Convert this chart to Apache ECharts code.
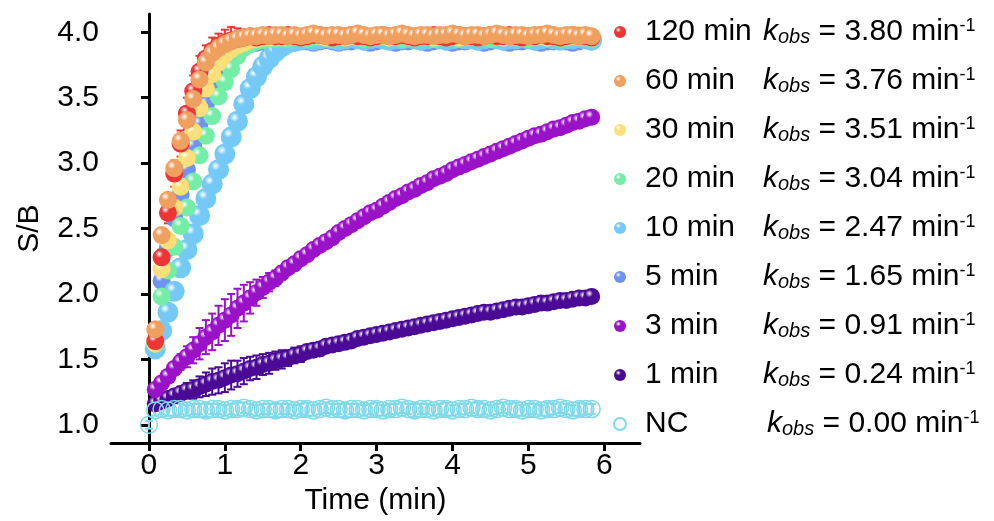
<!DOCTYPE html>
<html>
<head>
<meta charset="utf-8">
<script src="https://cdn.jsdelivr.net/npm/echarts@6/dist/echarts.min.js"></script>
<style>
  html, body { margin: 0; padding: 0; background: #fff; }
  #chart { width: 994px; height: 521px; }
</style>
</head>
<body>
<div id="chart"></div>
<script>
// sampling time in seconds (every 5 s)
const timeSec = [
  0, 5, 10, 15, 20, 25, 30, 35, 40, 45, 50, 55,
  60, 65, 70, 75, 80, 85, 90, 95, 100, 105, 110, 115,
  120, 125, 130, 135, 140, 145, 150, 155, 160, 165, 170, 175,
  180, 185, 190, 195, 200, 205, 210, 215, 220, 225, 230, 235,
  240, 245, 250, 255, 260, 265, 270, 275, 280, 285, 290, 295,
  300, 305, 310, 315, 320, 325, 330, 335, 340, 345, 350
]

const names = ['120 min', '60 min', '30 min', '20 min', '10 min', '5 min', '3 min', '1 min', 'NC']
const kobs = ['3.80', '3.76', '3.51', '3.04', '2.47', '1.65', '0.91', '0.24', '0.00']
const xTicks = [0, 1, 2, 3, 4, 5, 6]
const yTicks = [1.0, 1.5, 2.0, 2.5, 3.0, 3.5, 4.0]

const s120 = [
  null, 1.64, 2.28, 2.62, 2.92, 3.15, 3.38, 3.55, 3.70, 3.80, 3.86, 3.90,
  3.92, 3.94, 3.95, 3.96, 3.97, 3.96, 3.97, 3.98, 3.97, 3.97, 3.98, 3.97,
  3.96, 3.97, 3.98, 3.98, 3.97, 3.96, 3.97, 3.97, 3.98, 3.97, 3.97, 3.96,
  3.97, 3.98, 3.97, 3.97, 3.98, 3.97, 3.96, 3.97, 3.97, 3.98, 3.97, 3.96,
  3.97, 3.98, 3.97, 3.97, 3.96, 3.97, 3.98, 3.97, 3.97, 3.98, 3.97, 3.96,
  3.97, 3.97, 3.98, 3.97, 3.97, 3.96, 3.97, 3.98, 3.97, 3.97, 3.96
]
const e120 = [
  0, 0.04, 0.06, 0.08, 0.10, 0.10, 0.12, 0.12, 0.12, 0.10, 0.10, 0.09,
  0.10, 0.10, 0.08, 0.06, 0.05, 0.04, 0.04, 0.04, 0.03, 0.04, 0.03, 0.03,
  0.04, 0.03, 0.03, 0.04, 0.03, 0.03, 0.04, 0.03, 0.03, 0.04, 0.03, 0.03,
  0.03, 0.04, 0.03, 0.03, 0.04, 0.03, 0.03, 0.04, 0.03, 0.03, 0.04, 0.03,
  0.03, 0.04, 0.03, 0.03, 0.04, 0.03, 0.03, 0.04, 0.03, 0.03, 0.04, 0.03,
  0.03, 0.04, 0.03, 0.03, 0.04, 0.03, 0.03, 0.04, 0.03, 0.03, 0.04
]
const s60 = [
  null, 1.73, 2.45, 2.72, 2.96, 3.17, 3.33, 3.49, 3.64, 3.77, 3.84, 3.88,
  3.91, 3.93, 3.95, 3.96, 3.97, 3.97, 3.98, 3.97, 3.98, 3.98, 3.97, 3.98,
  3.97, 3.98, 3.99, 3.98, 3.97, 3.98, 3.98, 3.97, 3.98, 3.99, 3.98, 3.97,
  3.98, 3.98, 3.97, 3.98, 3.99, 3.98, 3.97, 3.98, 3.98, 3.97, 3.98, 3.98,
  3.99, 3.98, 3.97, 3.98, 3.98, 3.97, 3.98, 3.99, 3.98, 3.97, 3.98, 3.98,
  3.97, 3.98, 3.98, 3.99, 3.98, 3.97, 3.98, 3.98, 3.97, 3.98, 3.97
]
const e60 = [
  0, 0.04, 0.05, 0.05, 0.06, 0.06, 0.06, 0.05, 0.05, 0.05, 0.04, 0.04,
  0.04, 0.03, 0.03, 0.03, 0.03, 0.03, 0.03, 0.03, 0.03, 0.03, 0.03, 0.03,
  0.03, 0.03, 0.03, 0.03, 0.03, 0.03, 0.03, 0.03, 0.03, 0.03, 0.03, 0.03,
  0.03, 0.03, 0.03, 0.03, 0.03, 0.03, 0.03, 0.03, 0.03, 0.03, 0.03, 0.03,
  0.03, 0.03, 0.03, 0.03, 0.03, 0.03, 0.03, 0.03, 0.03, 0.03, 0.03, 0.03,
  0.03, 0.03, 0.03, 0.03, 0.03, 0.03, 0.03, 0.03, 0.03, 0.03, 0.03
]
const s30 = [
  null, 1.62, 2.19, 2.41, 2.66, 2.82, 3.04, 3.24, 3.42, 3.57, 3.68, 3.77,
  3.83, 3.87, 3.90, 3.92, 3.94, 3.95, 3.96, 3.96, 3.97, 3.96, 3.97, 3.97,
  3.96, 3.97, 3.98, 3.97, 3.96, 3.97, 3.97, 3.96, 3.97, 3.98, 3.97, 3.96,
  3.97, 3.97, 3.96, 3.97, 3.98, 3.97, 3.96, 3.97, 3.97, 3.96, 3.97, 3.98,
  3.97, 3.96, 3.97, 3.97, 3.96, 3.97, 3.98, 3.97, 3.96, 3.97, 3.97, 3.96,
  3.97, 3.98, 3.97, 3.96, 3.97, 3.97, 3.96, 3.97, 3.98, 3.97, 3.96
]
const e30 = [
  0, 0.03, 0.04, 0.04, 0.04, 0.04, 0.03, 0.03, 0.03, 0.03, 0.03, 0.03,
  0.03, 0.03, 0.03, 0.03, 0.03, 0.03, 0.03, 0.03, 0.03, 0.03, 0.03, 0.03,
  0.03, 0.03, 0.03, 0.03, 0.03, 0.03, 0.03, 0.03, 0.03, 0.03, 0.03, 0.03,
  0.03, 0.03, 0.03, 0.03, 0.03, 0.03, 0.03, 0.03, 0.03, 0.03, 0.03, 0.03,
  0.03, 0.03, 0.03, 0.03, 0.03, 0.03, 0.03, 0.03, 0.03, 0.03, 0.03, 0.03,
  0.03, 0.03, 0.03, 0.03, 0.03, 0.03, 0.03, 0.03, 0.03, 0.03, 0.03
]
const s20 = [
  null, 1.62, 1.98, 2.18, 2.36, 2.52, 2.66, 2.86, 3.06, 3.21, 3.36, 3.51,
  3.62, 3.72, 3.82, 3.88, 3.91, 3.93, 3.94, 3.95, 3.95, 3.96, 3.95, 3.96,
  3.96, 3.95, 3.96, 3.97, 3.96, 3.95, 3.96, 3.96, 3.97, 3.96, 3.95, 3.96,
  3.96, 3.97, 3.96, 3.96, 3.95, 3.96, 3.97, 3.96, 3.96, 3.95, 3.96, 3.97,
  3.96, 3.95, 3.96, 3.96, 3.97, 3.96, 3.95, 3.96, 3.96, 3.97, 3.96, 3.96,
  3.95, 3.96, 3.97, 3.96, 3.96, 3.95, 3.96, 3.97, 3.96, 3.96, 3.95
]
const e20 = [
  0, 0.05, 0.05, 0.05, 0.05, 0.04, 0.04, 0.04, 0.04, 0.03, 0.03, 0.03,
  0.03, 0.03, 0.03, 0.03, 0.03, 0.03, 0.03, 0.03, 0.03, 0.03, 0.03, 0.03,
  0.03, 0.03, 0.03, 0.03, 0.03, 0.03, 0.03, 0.03, 0.03, 0.03, 0.03, 0.03,
  0.03, 0.03, 0.03, 0.03, 0.03, 0.03, 0.03, 0.03, 0.03, 0.03, 0.03, 0.03,
  0.03, 0.03, 0.03, 0.03, 0.03, 0.03, 0.03, 0.03, 0.03, 0.03, 0.03, 0.03,
  0.03, 0.03, 0.03, 0.03, 0.03, 0.03, 0.03, 0.03, 0.03, 0.03, 0.03
]
const s10 = [
  null, 1.58, 1.72, 1.86, 2.02, 2.20, 2.34, 2.46, 2.60, 2.73, 2.84, 2.95,
  3.07, 3.20, 3.32, 3.45, 3.57, 3.66, 3.74, 3.80, 3.85, 3.89, 3.92, 3.93,
  3.94, 3.95, 3.94, 3.95, 3.96, 3.95, 3.94, 3.95, 3.96, 3.95, 3.94, 3.95,
  3.96, 3.95, 3.94, 3.95, 3.95, 3.96, 3.95, 3.94, 3.95, 3.96, 3.95, 3.94,
  3.95, 3.96, 3.95, 3.95, 3.94, 3.95, 3.96, 3.95, 3.94, 3.95, 3.95, 3.96,
  3.95, 3.94, 3.95, 3.96, 3.95, 3.94, 3.95, 3.95, 3.96, 3.95, 3.94
]
const e10 = [
  0, 0.04, 0.04, 0.04, 0.04, 0.03, 0.03, 0.03, 0.03, 0.03, 0.03, 0.03,
  0.03, 0.03, 0.03, 0.03, 0.03, 0.03, 0.03, 0.03, 0.03, 0.03, 0.03, 0.03,
  0.03, 0.03, 0.03, 0.03, 0.03, 0.03, 0.03, 0.03, 0.03, 0.03, 0.03, 0.03,
  0.03, 0.03, 0.03, 0.03, 0.03, 0.03, 0.03, 0.03, 0.03, 0.03, 0.03, 0.03,
  0.03, 0.03, 0.03, 0.03, 0.03, 0.03, 0.03, 0.03, 0.03, 0.03, 0.03, 0.03,
  0.03, 0.03, 0.03, 0.03, 0.03, 0.03, 0.03, 0.03, 0.03, 0.03, 0.03
]
const s5 = [
  null, 1.60, 2.10, 2.35, 2.58, 2.76, 2.95, 3.13, 3.30, 3.45, 3.58, 3.68,
  3.76, 3.82, 3.86, 3.89, 3.91, 3.92, 3.93, 3.93, 3.94, 3.93, 3.92, 3.93,
  3.94, 3.93, 3.92, 3.93, 3.94, 3.93, 3.92, 3.93, 3.93, 3.94, 3.93, 3.92,
  3.93, 3.94, 3.93, 3.92, 3.93, 3.93, 3.94, 3.93, 3.92, 3.93, 3.94, 3.93,
  3.92, 3.93, 3.93, 3.94, 3.93, 3.92, 3.93, 3.94, 3.93, 3.92, 3.93, 3.93,
  3.94, 3.93, 3.92, 3.93, 3.93, 3.94, 3.93, 3.92, 3.93, 3.94, 3.93
]
const e5 = [
  0, 0.04, 0.04, 0.04, 0.04, 0.04, 0.04, 0.04, 0.04, 0.04, 0.04, 0.04,
  0.04, 0.04, 0.04, 0.04, 0.04, 0.04, 0.04, 0.04, 0.04, 0.04, 0.04, 0.04,
  0.04, 0.04, 0.04, 0.04, 0.04, 0.04, 0.04, 0.04, 0.04, 0.04, 0.04, 0.04,
  0.04, 0.04, 0.04, 0.04, 0.04, 0.04, 0.04, 0.04, 0.04, 0.04, 0.04, 0.04,
  0.04, 0.04, 0.04, 0.04, 0.04, 0.04, 0.04, 0.04, 0.04, 0.04, 0.04, 0.04,
  0.04, 0.04, 0.04, 0.04, 0.04, 0.04, 0.04, 0.04, 0.04, 0.04, 0.04
]
const s3 = [
  null, 1.27, 1.32, 1.37, 1.43, 1.48, 1.52, 1.57, 1.62, 1.67, 1.71, 1.76,
  1.80, 1.84, 1.89, 1.93, 1.97, 2.01, 2.05, 2.09, 2.12, 2.16, 2.20, 2.23,
  2.27, 2.30, 2.34, 2.37, 2.40, 2.43, 2.47, 2.50, 2.53, 2.56, 2.59, 2.62,
  2.64, 2.67, 2.70, 2.73, 2.75, 2.78, 2.80, 2.83, 2.85, 2.88, 2.90, 2.92,
  2.95, 2.97, 2.99, 3.01, 3.03, 3.05, 3.07, 3.09, 3.11, 3.13, 3.15, 3.17,
  3.19, 3.21, 3.22, 3.24, 3.26, 3.27, 3.29, 3.31, 3.32, 3.34, 3.35
]
const e3 = [
  0, 0.04, 0.04, 0.04, 0.05, 0.06, 0.08, 0.10, 0.12, 0.13, 0.14, 0.15,
  0.16, 0.16, 0.15, 0.14, 0.12, 0.10, 0.08, 0.07, 0.06, 0.05, 0.05, 0.05,
  0.05, 0.04, 0.05, 0.04, 0.04, 0.05, 0.04, 0.04, 0.04, 0.05, 0.04, 0.04,
  0.04, 0.04, 0.05, 0.04, 0.04, 0.04, 0.04, 0.05, 0.04, 0.04, 0.04, 0.04,
  0.04, 0.05, 0.04, 0.04, 0.04, 0.04, 0.04, 0.05, 0.04, 0.04, 0.04, 0.04,
  0.04, 0.04, 0.05, 0.04, 0.04, 0.04, 0.04, 0.04, 0.04, 0.04, 0.04
]
const s1 = [
  null, 1.16, 1.18, 1.20, 1.22, 1.24, 1.26, 1.27, 1.29, 1.31, 1.33, 1.34,
  1.36, 1.38, 1.39, 1.41, 1.43, 1.44, 1.46, 1.47, 1.49, 1.50, 1.51, 1.53,
  1.54, 1.56, 1.57, 1.58, 1.60, 1.61, 1.62, 1.63, 1.64, 1.66, 1.67, 1.68,
  1.69, 1.70, 1.71, 1.72, 1.73, 1.74, 1.75, 1.76, 1.77, 1.78, 1.79, 1.80,
  1.81, 1.82, 1.83, 1.84, 1.85, 1.86, 1.86, 1.87, 1.88, 1.89, 1.90, 1.90,
  1.91, 1.92, 1.93, 1.93, 1.94, 1.95, 1.95, 1.96, 1.97, 1.97, 1.98
]
const e1 = [
  0, 0.05, 0.05, 0.05, 0.04, 0.05, 0.06, 0.07, 0.08, 0.09, 0.10, 0.10,
  0.11, 0.11, 0.10, 0.10, 0.09, 0.09, 0.08, 0.08, 0.07, 0.07, 0.06, 0.06,
  0.06, 0.05, 0.05, 0.05, 0.04, 0.04, 0.04, 0.04, 0.04, 0.04, 0.04, 0.04,
  0.04, 0.04, 0.04, 0.04, 0.04, 0.04, 0.04, 0.04, 0.04, 0.04, 0.04, 0.04,
  0.04, 0.04, 0.04, 0.04, 0.04, 0.04, 0.04, 0.04, 0.04, 0.04, 0.04, 0.04,
  0.04, 0.04, 0.04, 0.04, 0.04, 0.04, 0.04, 0.04, 0.04, 0.04, 0.04
]
const sNC = [
  1.00, 1.11, 1.12, 1.11, 1.12, 1.12, 1.11, 1.12, 1.12, 1.11, 1.12, 1.12,
  1.11, 1.12, 1.12, 1.13, 1.12, 1.11, 1.12, 1.12, 1.11, 1.12, 1.12, 1.11,
  1.12, 1.12, 1.11, 1.12, 1.13, 1.12, 1.12, 1.11, 1.12, 1.12, 1.11, 1.12,
  1.12, 1.11, 1.12, 1.12, 1.13, 1.12, 1.11, 1.12, 1.12, 1.11, 1.12, 1.12,
  1.11, 1.12, 1.12, 1.13, 1.12, 1.12, 1.11, 1.12, 1.13, 1.12, 1.12, 1.11,
  1.12, 1.12, 1.11, 1.12, 1.12, 1.13, 1.12, 1.11, 1.12, 1.12, 1.12
]
const eNC = [
  0.03, 0.04, 0.04, 0.04, 0.05, 0.04, 0.04, 0.04, 0.04, 0.05, 0.04, 0.04,
  0.04, 0.04, 0.05, 0.04, 0.04, 0.04, 0.04, 0.04, 0.05, 0.04, 0.04, 0.04,
  0.04, 0.05, 0.04, 0.04, 0.04, 0.04, 0.04, 0.05, 0.04, 0.04, 0.04, 0.04,
  0.05, 0.04, 0.04, 0.04, 0.04, 0.04, 0.05, 0.04, 0.04, 0.04, 0.04, 0.05,
  0.04, 0.04, 0.04, 0.04, 0.05, 0.04, 0.04, 0.04, 0.04, 0.04, 0.05, 0.04,
  0.04, 0.04, 0.04, 0.05, 0.04, 0.04, 0.04, 0.04, 0.05, 0.04, 0.04
]

const FONT = 'Liberation Sans, Arial, sans-serif'

// 球形渐变
function sphere(base) {
  return {
    type: 'radial', x: 0.36, y: 0.32, r: 0.72,
    colorStops: [
      { offset: 0, color: '#ffffff' },
      { offset: 0.3, color: base },
      { offset: 1, color: base }
    ]
  }
}

function points(vals) {
  const out = []
  vals.forEach((v, i) => { if (v != null) out.push([timeSec[i] / 60, v]) })
  return out
}

function errPoints(vals, errs) {
  const out = []
  vals.forEach((v, i) => { if (v != null) out.push([timeSec[i] / 60, v - errs[i], v + errs[i]]) })
  return out
}

function renderErr(params, api) {
  const x = api.value(0)
  const top = api.coord([x, api.value(2)])
  const bot = api.coord([x, api.value(1)])
  const w = 4
  const style = { stroke: api.visual('color'), lineWidth: 2 }
  return {
    type: 'group',
    children: [
      { type: 'line', shape: { x1: top[0], y1: top[1], x2: bot[0], y2: bot[1] }, style },
      { type: 'line', shape: { x1: top[0] - w, y1: top[1], x2: top[0] + w, y2: top[1] }, style },
      { type: 'line', shape: { x1: bot[0] - w, y1: bot[1], x2: bot[0] + w, y2: bot[1] }, style }
    ]
  }
}

// 绘制顺序（底 → 顶）
const layers = [
  { name: '5 min', vals: s5, errs: e5, color: '#7093f2', size: 18 },
  { name: '10 min', vals: s10, errs: e10, color: '#74c9f7', size: 21 },
  { name: '20 min', vals: s20, errs: e20, color: '#74eea6', size: 18 },
  { name: '30 min', vals: s30, errs: e30, color: '#fbe07a', size: 18 },
  { name: '120 min', vals: s120, errs: e120, color: '#ee3434', size: 18 },
  { name: '60 min', vals: s60, errs: e60, color: '#ef9f5e', size: 18 },
  { name: '1 min', vals: s1, errs: e1, color: '#4b0a96', size: 17 },
  { name: '3 min', vals: s3, errs: e3, color: '#9a12c8', size: 17 },
  { name: 'NC', vals: sNC, errs: eNC, color: '#7fd9e9', size: 17, hollow: true }
]

const series = []
layers.forEach(l => {
  series.push({
    name: l.name + ' err',
    type: 'custom',
    renderItem: renderErr,
    itemStyle: { color: l.color },
    data: errPoints(l.vals, l.errs),
    encode: { x: 0, y: [1, 2] },
    silent: true
  })
  series.push({
    name: l.name,
    type: 'scatter',
    symbol: 'circle',
    symbolSize: l.size,
    itemStyle: l.hollow
      ? { color: 'rgba(255,255,255,0)', borderColor: l.color, borderWidth: 1.5, opacity: 1 }
      : { color: sphere(l.color), borderWidth: 0, opacity: 1 },
    data: points(l.vals)
  })
})

const chart = echarts.init(document.getElementById('chart'))
chart.setOption({
  animation: false,
  backgroundColor: '#fff',
  grid: { left: 111, right: 354, top: 14, bottom: 73 },
  xAxis: {
    type: 'value',
    min: -0.5,
    max: 6.47,
    name: 'Time (min)',
    nameLocation: 'middle',
    nameGap: 38,
    nameTextStyle: { fontSize: 30, color: '#000', fontFamily: FONT },
    axisLine: { lineStyle: { color: '#000', width: 3 } },
    axisTick: { customValues: xTicks, length: 8, lineStyle: { width: 3, color: '#000' } },
    axisLabel: { customValues: xTicks, fontSize: 30, color: '#000', fontFamily: FONT, margin: 8 },
    splitLine: { show: false }
  },
  yAxis: {
    type: 'value',
    min: 0.86,
    max: 4.14,
    name: 'S/B',
    nameLocation: 'middle',
    nameGap: 66,
    nameRotate: 90,
    nameTextStyle: { fontSize: 30, color: '#000', fontFamily: FONT },
    axisLine: { lineStyle: { color: '#000', width: 3 } },
    axisTick: { customValues: yTicks, length: 8, lineStyle: { width: 3, color: '#000' } },
    axisLabel: {
      customValues: yTicks, fontSize: 30, color: '#000', fontFamily: FONT, margin: 12,
      formatter: v => v.toFixed(1)
    },
    splitLine: { show: false }
  },
  legend: {
    data: names,
    orient: 'vertical',
    left: 613,
    top: 17,
    padding: 0,
    itemWidth: 40,
    itemHeight: 12,
    itemGap: 19,
    selectedMode: false,
    formatter: name => {
      const i = names.indexOf(name)
      const col = name === 'NC' ? 'nc' : 'n'
      return '{' + col + '|' + name + '}{k|k}{s|obs}{e| = ' + kobs[i] + ' min}{p|-1}'
    },
    textStyle: {
      color: '#000',
      fontFamily: FONT,
      fontSize: 30,
      rich: {
        n: { fontSize: 30, width: 118, lineHeight: 30, fontFamily: FONT },
        nc: { fontSize: 30, width: 122, lineHeight: 30, fontFamily: FONT },
        k: { fontSize: 30, fontStyle: 'italic', lineHeight: 30, fontFamily: FONT },
        s: { fontSize: 20, fontStyle: 'italic', lineHeight: 12, verticalAlign: 'bottom', fontFamily: FONT },
        e: { fontSize: 30, lineHeight: 30, fontFamily: FONT },
        p: { fontSize: 18, lineHeight: 6, verticalAlign: 'top', fontFamily: FONT }
      }
    }
  },
  series
})

window.addEventListener('resize', () => chart.resize())
</script>
</body>
</html>
